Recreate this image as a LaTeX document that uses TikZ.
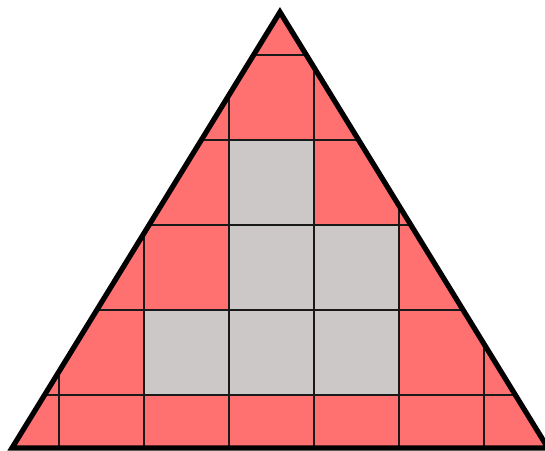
\documentclass[tikz,border=0pt]{standalone}
\usepackage{xcolor}
\definecolor{tilered}{RGB}{255,112,112}
\definecolor{tilegray}{RGB}{204,200,200}
\begin{document}
\begin{tikzpicture}[
  grid line/.style={line width=0.7pt, black!90},
  outline/.style={line width=1.75pt, line join=miter}
]
\useasboundingbox (-0.694,-0.024) rectangle (5.718,5.271);
\coordinate (L) at (-0.553,0);
\coordinate (R) at (5.753,0);
\coordinate (T) at (2.6,5.129);
\begin{scope}
  \clip (L) -- (R) -- (T) -- cycle;
  \fill[tilered] (L) -- (R) -- (T) -- cycle;
  % gray tiles
  \foreach \c/\r in {2/2, 2/1, 3/1, 1/0, 2/0, 3/0}
    \fill[tilegray] (\c,0.6235+\r) rectangle ++(1,1);
  \foreach \c in {0,...,5}
    \draw[grid line] (\c,-1) -- (\c,6);
  \foreach \r in {0,...,4}
    \draw[grid line] (-1,0.6235+\r) -- (7,0.6235+\r);
\end{scope}
\draw[outline] (L) -- (R) -- (T) -- cycle;
\end{tikzpicture}
\end{document}
